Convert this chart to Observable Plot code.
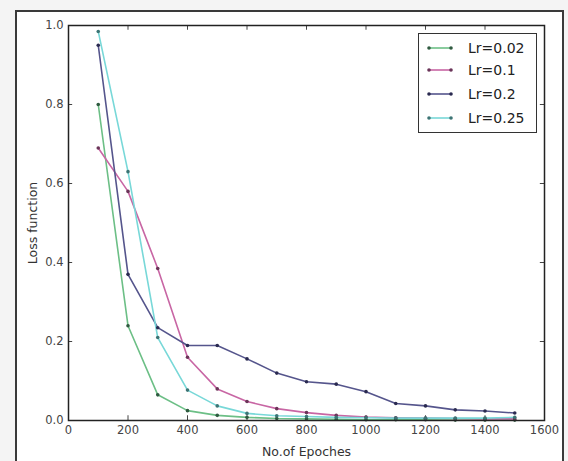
<!DOCTYPE html>
<html>
<head>
<meta charset="utf-8">
<script src="https://cdn.jsdelivr.net/npm/d3@7"></script>
<script src="https://cdn.jsdelivr.net/npm/@observablehq/plot@0.6"></script>
<style>
  html, body { margin: 0; padding: 0; background: #ffffff; }
  #wrap { position: relative; width: 568px; height: 461px; overflow: hidden; background: #f4f4f4; }
  #panel { position: absolute; left: 15px; top: 10px; width: 549px; height: 460px; border: 2px solid #3a3a3a; background: #fff; box-sizing: border-box; }
  #chart { position: absolute; left: 0; top: 0; }
  #legend { position: absolute; left: 418px; top: 33px; width: 119px; height: 100px; border: 1.5px solid #333; background: #fff; box-sizing: border-box; font-family: "DejaVu Sans", sans-serif; font-size: 14px; color: #222; }
  .entry { position: absolute; left: 0; height: 20px; display: flex; align-items: center; }
  .entry svg { margin-left: 8px; }
  .entry span { margin-left: 15px; }
</style>
</head>
<body>
<div id="wrap">
  <div id="panel"></div>
  <div id="chart"></div>
  <div id="legend"></div>
</div>
<script>
const epochs = [100, 200, 300, 400, 500, 600, 700, 800, 900, 1000, 1100, 1200, 1300, 1400, 1500];
const seriesNames = ["Lr=0.02", "Lr=0.1", "Lr=0.2", "Lr=0.25"];
const lr002 = [0.80, 0.24, 0.065, 0.025, 0.013, 0.008, 0.005, 0.004, 0.003, 0.002, 0.002, 0.002, 0.001, 0.001, 0.001];
const lr01  = [0.69, 0.58, 0.385, 0.16, 0.08, 0.048, 0.030, 0.020, 0.013, 0.009, 0.007, 0.006, 0.005, 0.004, 0.004];
const lr02  = [0.95, 0.37, 0.235, 0.19, 0.19, 0.156, 0.12, 0.098, 0.092, 0.073, 0.043, 0.037, 0.027, 0.024, 0.019];
const lr025 = [0.985, 0.63, 0.21, 0.077, 0.037, 0.018, 0.012, 0.010, 0.008, 0.007, 0.006, 0.006, 0.006, 0.006, 0.008];
const seriesValues = [lr002, lr01, lr02, lr025];
const lineColors = ["#6cbf86", "#c866a4", "#55558c", "#78d8d8"];
const dotColors  = ["#2f5a40", "#6a3458", "#2a2a50", "#3c7474"];
const xTicks = [0, 200, 400, 600, 800, 1000, 1200, 1400, 1600];
const yTicks = [0.0, 0.2, 0.4, 0.6, 0.8, 1.0];

const data = [];
seriesNames.forEach((s, i) => epochs.forEach((e, j) => data.push({series: s, epoch: e, loss: seriesValues[i][j]})));

const chart = Plot.plot({
  width: 568,
  height: 461,
  marginLeft: 68,
  marginRight: 24,
  marginTop: 25,
  marginBottom: 41,
  style: {fontFamily: "DejaVu Sans, sans-serif", background: "transparent"},
  x: {domain: [0, 1600]},
  y: {domain: [0, 1]},
  color: {domain: seriesNames, range: lineColors},
  marks: [
    Plot.axisX(xTicks, {tickSize: 0, tickPadding: 5, fontSize: 11.5, fill: "#444", tickFormat: d => String(d), label: null}),
    Plot.axisY(yTicks, {tickSize: 0, tickPadding: 5, fontSize: 11.5, fill: "#444", tickFormat: d => d.toFixed(1), label: null}),
    Plot.ruleX(xTicks, {y1: 0, y2: 0.012, stroke: "#444"}),
    Plot.ruleX(xTicks, {y1: 1, y2: 0.988, stroke: "#444"}),
    Plot.ruleY(yTicks, {x1: 0, x2: 14, stroke: "#444"}),
    Plot.ruleY(yTicks, {x1: 1600, x2: 1586, stroke: "#444"}),
    Plot.line(data, {x: "epoch", y: "loss", z: "series", stroke: "series", strokeWidth: 1.6}),
    ...seriesNames.map((s, i) => Plot.dot(data.filter(d => d.series === s), {x: "epoch", y: "loss", r: 1.8, fill: dotColors[i], stroke: null})),
    Plot.frame({stroke: "#222", strokeWidth: 1.5}),
    Plot.text(["No.of Epoches"], {frameAnchor: "bottom", dy: 35, fontSize: 12.5, fill: "#333"}),
    Plot.text(["Loss function"], {frameAnchor: "left", textAnchor: "middle", dx: -36, rotate: -90, fontSize: 12.5, fill: "#333"})
  ]
});
document.getElementById("chart").appendChild(chart);

const legend = document.getElementById("legend");
const tops = [4, 26, 50, 74];
seriesNames.forEach((s, i) => {
  const div = document.createElement("div");
  div.className = "entry";
  div.style.top = tops[i] + "px";
  div.innerHTML = `<svg width="26" height="8"><line x1="2" y1="4" x2="24" y2="4" stroke="${lineColors[i]}" stroke-width="1.6"/><circle cx="2" cy="4" r="1.8" fill="${dotColors[i]}"/><circle cx="24" cy="4" r="1.8" fill="${dotColors[i]}"/></svg><span>${s}</span>`;
  legend.appendChild(div);
});
</script>
</body>
</html>
